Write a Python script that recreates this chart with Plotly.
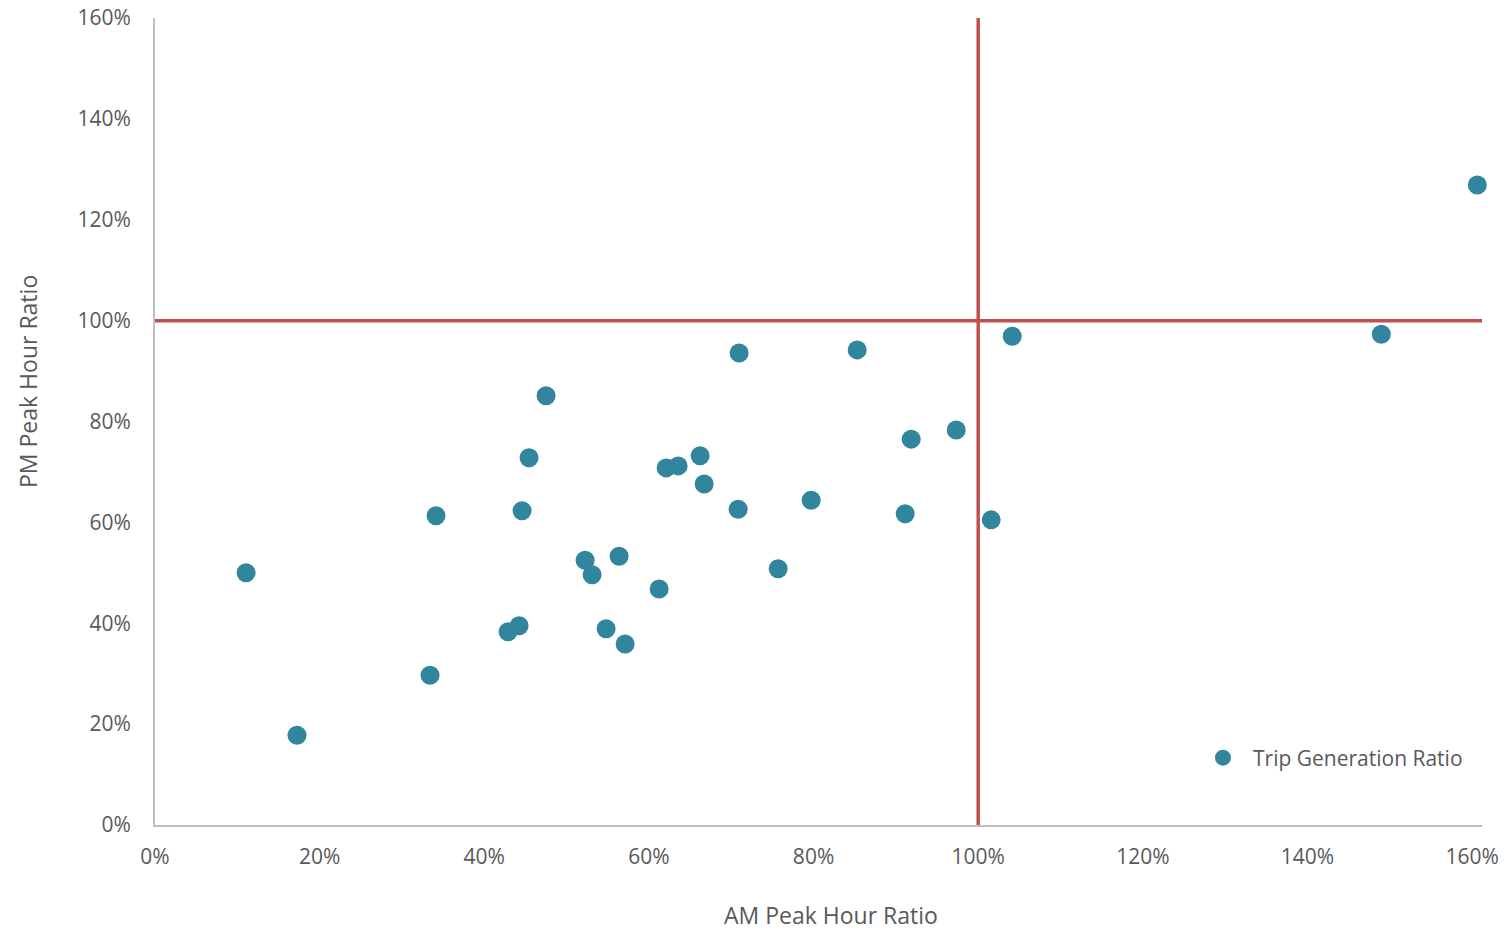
import plotly.graph_objects as go

am_ratio = [11.06, 17.25, 33.41, 34.14, 42.89, 44.23, 44.59, 45.44, 47.51, 52.25, 53.10, 54.80,
            56.38, 57.11, 61.24, 62.09, 63.55, 66.22, 66.71, 70.96, 70.84, 75.70, 79.71, 85.30,
            91.13, 91.86, 97.33, 101.58, 104.13, 148.97, 160.63]
pm_ratio = [50.0, 17.8, 29.7, 61.3, 38.3, 39.5, 62.3, 72.8, 85.1, 52.5, 49.6, 38.9, 53.3, 35.9,
            46.8, 70.8, 71.2, 73.2, 67.6, 93.6, 62.6, 50.8, 64.4, 94.2, 61.7, 76.5, 78.3, 60.5,
            96.9, 97.3, 126.9]
tick_vals = [0, 20, 40, 60, 80, 100, 120, 140, 160]
tick_text = ["0%", "20%", "40%", "60%", "80%", "100%", "120%", "140%", "160%"]
x_max = 161.2
y_max = 160
threshold = 100
series_name = "Trip Generation Ratio"

FONT = "Open Sans"
TXT = "#595959"

fig = go.Figure()
fig.add_trace(go.Scatter(
    x=am_ratio, y=pm_ratio, mode="markers", name=series_name,
    marker=dict(color="#31859C", size=19, line=dict(width=0)),
    showlegend=True, cliponaxis=False,
))

fig.add_shape(type="line", xref="x", yref="y", x0=threshold, x1=threshold, y0=0, y1=y_max,
              line=dict(color="#C0504D", width=3.5), layer="below")
fig.add_shape(type="line", xref="x", yref="y", x0=0, x1=x_max, y0=threshold, y1=threshold,
              line=dict(color="#C0504D", width=3.5), layer="below")

fig.update_layout(
    width=1507, height=930,
    margin=dict(l=155, r=25, t=18, b=105, autoexpand=False),
    plot_bgcolor="white", paper_bgcolor="white",
    font=dict(family=FONT, color=TXT, size=21),
    showlegend=True,
    legend=dict(x=0.7822, y=0.083, xanchor="left", yanchor="middle", itemwidth=50,
                bgcolor="rgba(0,0,0,0)", font=dict(size=21, color=TXT, family=FONT)),
    xaxis=dict(range=[0, x_max], tickvals=tick_vals, ticktext=tick_text, showgrid=False,
               zeroline=False, showline=True, linecolor="#BFBFBF", linewidth=2, ticks="",
               automargin=False, ticklabeloverflow="allow", ticklabelstandoff=12,
               tickfont=dict(size=21, color=TXT)),
    yaxis=dict(range=[0, y_max], tickvals=tick_vals, ticktext=tick_text, showgrid=False,
               zeroline=False, showline=True, linecolor="#BFBFBF", linewidth=2, ticks="",
               automargin=False, ticklabeloverflow="allow", ticklabelstandoff=18,
               tickfont=dict(size=21, color=TXT)),
    annotations=[
        dict(text="AM Peak Hour Ratio", xref="paper", yref="paper", x=0.5094, y=-0.1115,
             xanchor="center", yanchor="middle", showarrow=False,
             font=dict(size=23, color=TXT, family=FONT)),
        dict(text="PM Peak Hour Ratio", xref="paper", yref="paper", x=-0.0957, y=0.549,
             xanchor="center", yanchor="middle", textangle=-90, showarrow=False,
             font=dict(size=23, color=TXT, family=FONT)),
    ],
)

fig.write_html("out.html", config={"displayModeBar": False},
               post_script="document.body.style.margin='0';document.body.style.overflow='hidden';")
